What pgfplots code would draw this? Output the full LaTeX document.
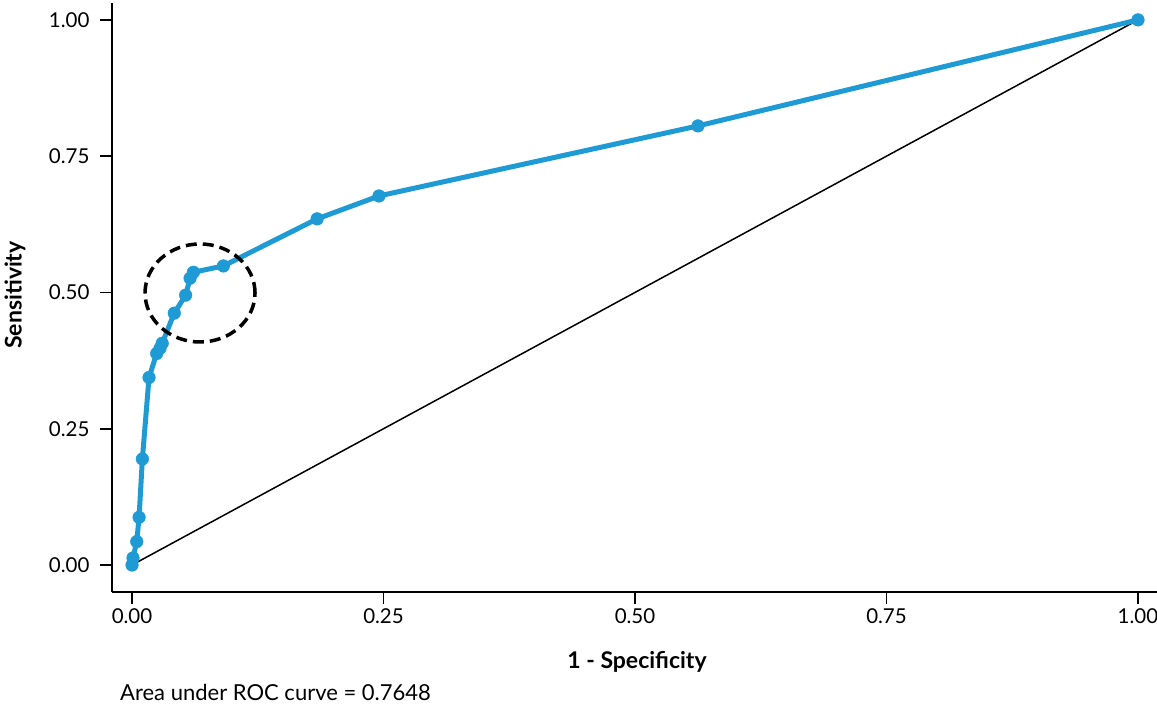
\documentclass[border=0pt]{standalone}
\usepackage{pgfplots}
\pgfplotsset{compat=1.18}
\usepackage{fontspec}
\setmainfont{Lato}
\definecolor{rocblue}{RGB}{30,155,213}
\begin{document}
\begin{tikzpicture}[x=1bp,y=1bp]
\path[use as bounding box] (0,0) rectangle (1157,707);
\begin{axis}[
  at={(112bp,115bp)}, anchor=south west,
  scale only axis, width=1045bp, height=589bp,
  xmin=-0.0199, xmax=1.0189, ymin=-0.0495, ymax=1.031,
  axis x line*=bottom, axis y line*=left,
  axis line style={line width=1.8bp, -},
  xtick={0,0.25,0.5,0.75,1}, ytick={0,0.25,0.5,0.75,1},
  xticklabels={0.00,0.25,0.50,0.75,1.00},
  yticklabels={0.00,0.25,0.50,0.75,1.00},
  tick style={line width=1.6bp, black},
  tick align=outside, major tick length=12bp,
  tick label style={font=\fontsize{20.5bp}{23bp}\selectfont},
  /pgf/number format/assume math mode=true,
  xticklabel style={yshift=-1bp},
  yticklabel style={xshift=-7bp},
  clip=false,
]
\addplot[black, line width=1.5bp] coordinates {(0,0) (1,1)};
\addplot[rocblue, line width=5bp, mark=*, mark size=6.3bp, mark options={fill=rocblue, draw=rocblue, line width=0.5bp}] coordinates {
(0,0) (0.001,0.013) (0.0047,0.043) (0.007,0.0875) (0.0103,0.1945)
(0.0169,0.344) (0.0245,0.388) (0.0278,0.3975) (0.030,0.4068)
(0.042,0.462) (0.0533,0.495) (0.0577,0.526) (0.061,0.537)
(0.0908,0.5486) (0.184,0.635) (0.2455,0.677) (0.5626,0.8055) (1,1)};
\draw[black, line width=3.5bp, dash pattern=on 11bp off 6bp] (axis cs:0.0676,0.499) ellipse [x radius=55bp, y radius=49bp];
\end{axis}
\node[font=\bfseries\fontsize{23bp}{25bp}\selectfont, rotate=90] at (15,412) {Sensitivity};
\node[font=\bfseries\fontsize{23bp}{25bp}\selectfont] at (637,45) {1 - Specificity};
\node[font=\fontsize{22bp}{24bp}\selectfont, anchor=west, inner sep=0pt] at (120,15) {Area under ROC curve = 0.7648};
\end{tikzpicture}
\end{document}
